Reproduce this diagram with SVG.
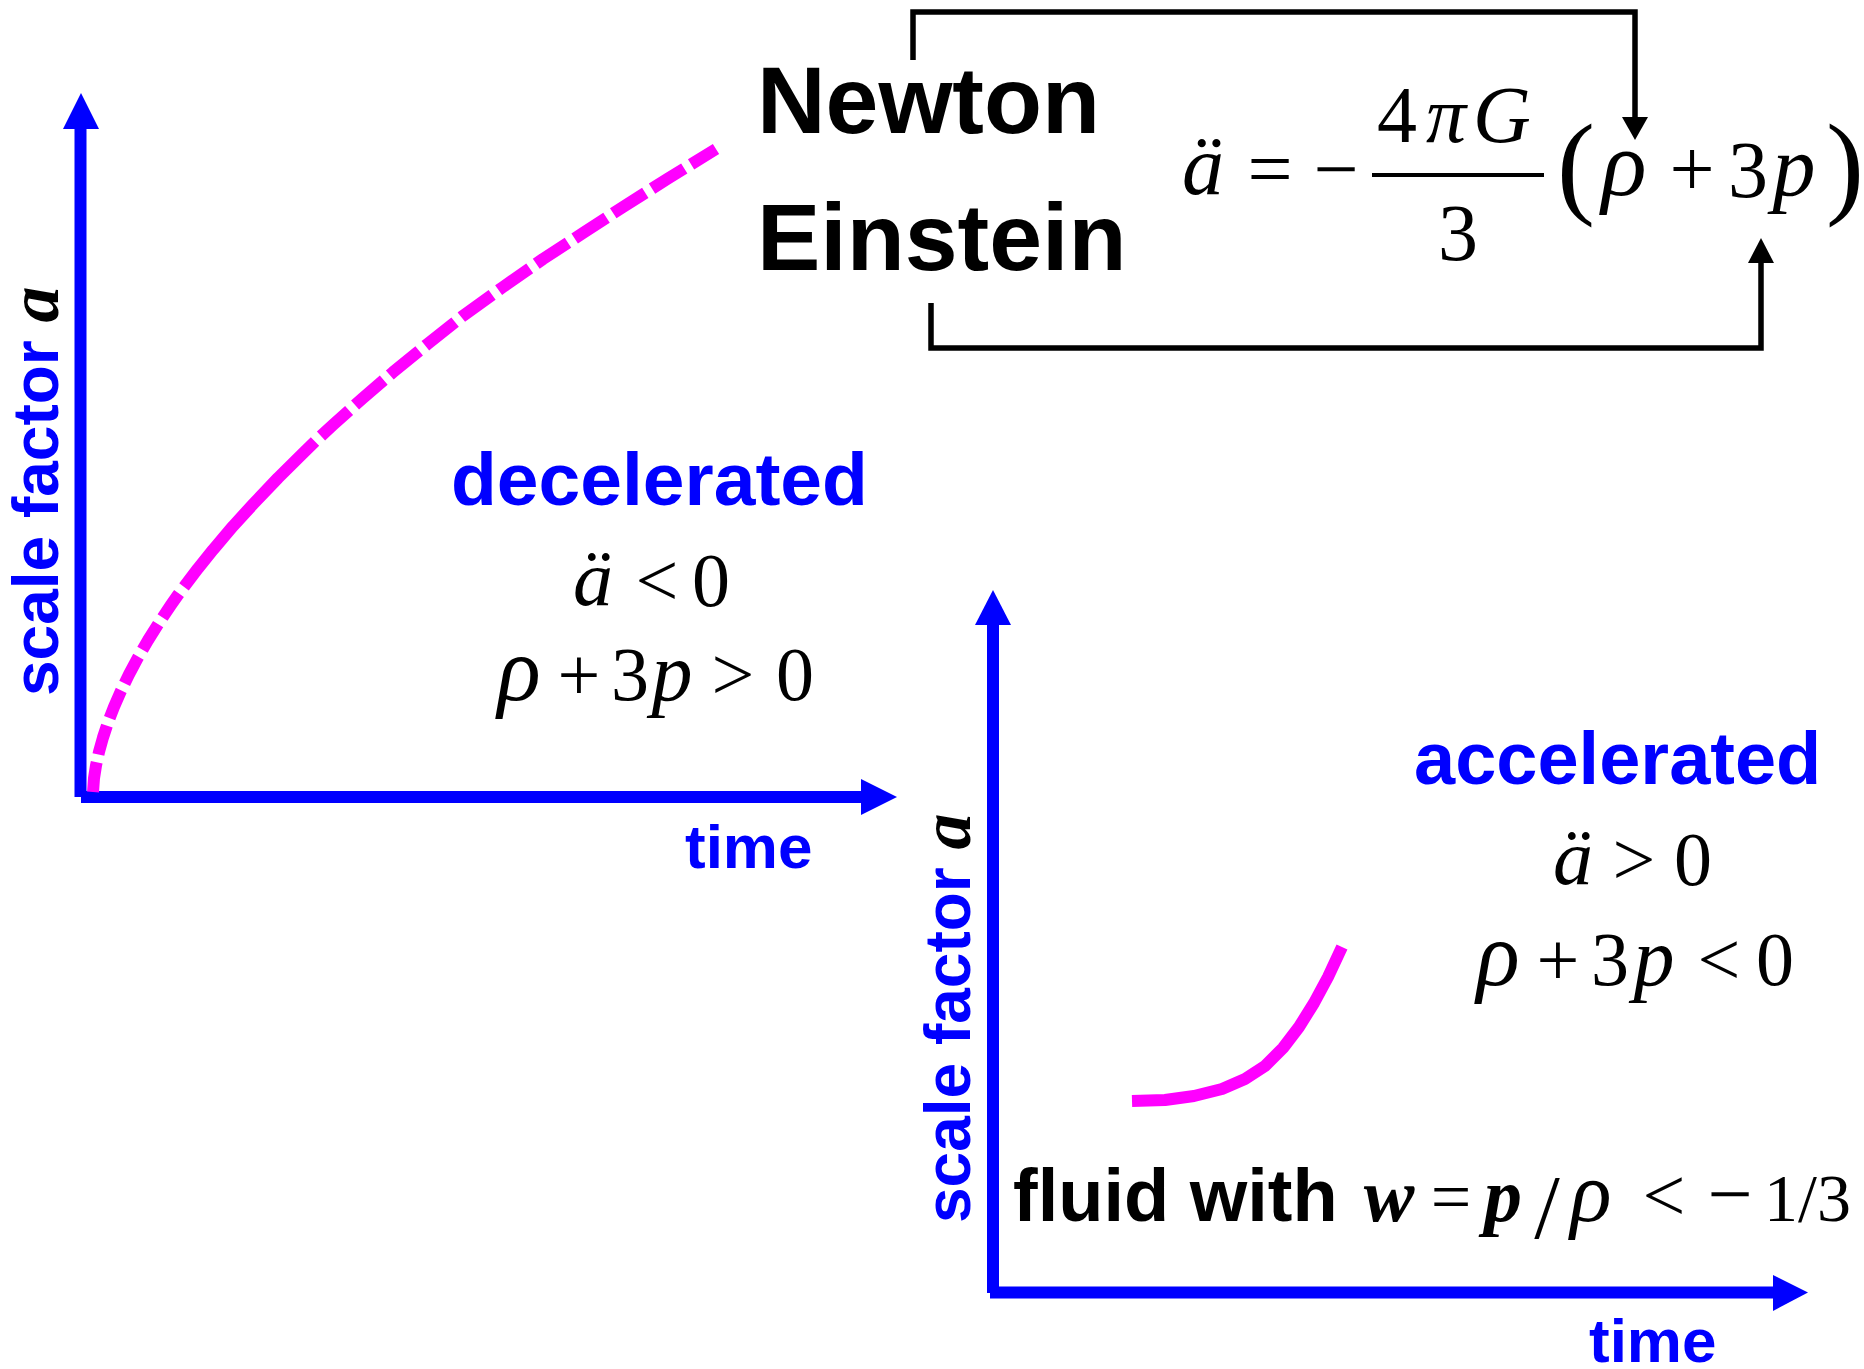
<svg xmlns="http://www.w3.org/2000/svg" width="1864" height="1369" viewBox="0 0 1864 1369">
<style>
.sans{font-family:"Liberation Sans",Arial,sans-serif;font-weight:bold}
.blue{fill:#0000ff}
.blk{fill:#000}
.m{font-family:"Liberation Serif","Times New Roman",serif;fill:#000}
.i{font-style:italic}
.b{font-weight:bold}
.c{text-anchor:middle}
.axis{stroke:#0000ff;stroke-width:12;fill:none}
.ahead{fill:#0000ff}
.curve{stroke:#ff00ff;stroke-width:12;fill:none;stroke-linejoin:round;stroke-linecap:butt}
.conn{stroke:#000;stroke-width:5.5;fill:none}
.chead{fill:#000}
</style>
<rect width="1864" height="1369" fill="#fff"/>

<g id="connectors">
  <path class="conn" d="M913,60 V12 H1635 V120"/>
  <polygon class="chead" points="1635,140 1622,117 1648,117"/>
  <path class="conn" d="M931,303 V348 H1761 V262"/>
  <polygon class="chead" points="1761,238 1748,263 1774,263"/>
</g>

<g id="newton">
  <text class="sans blk" x="757" y="133" font-size="95">Newton</text>
</g>
<g id="einstein">
  <text class="sans blk" x="757" y="270" font-size="95">Einstein</text>
</g>

<g id="equation" font-size="80">
  <text class="m i c" x="1203" y="195" font-size="84">ä</text>
  <text class="m c" x="1270" y="196">=</text>
  <text class="m c" x="1336" y="196">−</text>
  <text class="m c" x="1397" y="142">4</text>
  <text class="m i c" x="1446" y="142">π</text>
  <text class="m i c" x="1502" y="142">G</text>
  <rect x="1372" y="173" width="172" height="4" fill="#000"/>
  <text class="m c" x="1458" y="260">3</text>
  <text class="m c" x="1576" y="203" font-size="114">(</text>
  <text class="m i c" x="1624" y="195" font-size="94">ρ</text>
  <text class="m c" x="1692" y="196">+</text>
  <text class="m c" x="1748" y="197">3</text>
  <text class="m i c" x="1794" y="195" font-size="86">p</text>
  <text class="m c" x="1845" y="203" font-size="114">)</text>
</g>

<g id="graph-decelerated">
  <line class="axis" x1="80.5" y1="128" x2="80.5" y2="797"/>
  <polygon class="ahead" points="81,93 99,129 63,129"/>
  <line class="axis" x1="81" y1="797" x2="862" y2="797"/>
  <polygon class="ahead" points="897,797 861,779 861,815"/>
  <text class="sans blue" transform="translate(58,696) rotate(-90)" font-size="64">scale factor <tspan class="m i b blue" fill="#0000ff" font-size="72">a</tspan></text>
  <text class="sans blue" x="685" y="868" font-size="62">time</text>
  <path class="curve" stroke-dasharray="30 8" d="M93,792 L94,778.3 L96,765.5 L99,751.9 L103,737.5 L108,722.4 L114,706.9 L121,690.8 L129,674.4 L138,657.5 L148,640.3 L159,622.8 L171,604.9 L179,593.5"/>
  <path class="curve" d="M184,586.8 L198,568.4 L213,549.8 L233,526.2 L253,504.3 L278,478 L303,453.2 L315,441.5"/>
  <path class="curve" stroke-dasharray="38 8" d="M321,436 L333,424.8 L363,398 L393,372.2 L428,343.6 L463,315.8 L503,287 L543,259 L583,233 L623,207 L668,178.5 L716,149"/>
  <text class="sans blue" x="451" y="505" font-size="75">decelerated</text>
  <g font-size="76">
    <text class="m i c" x="593" y="606" font-size="80">ä</text>
    <text class="m c" x="657" y="606">&lt;</text>
    <text class="m c" x="711" y="606">0</text>
    <text class="m i c" x="519" y="700" font-size="90">ρ</text>
    <text class="m c" x="579" y="700">+</text>
    <text class="m c" x="630" y="700">3</text>
    <text class="m i c" x="672" y="700" font-size="82">p</text>
    <text class="m c" x="733" y="700">&gt;</text>
    <text class="m c" x="795" y="700">0</text>
  </g>
</g>

<g id="graph-accelerated">
  <line class="axis" x1="993" y1="623" x2="993" y2="1293"/>
  <polygon class="ahead" points="993,590 1011,625 975,625"/>
  <line class="axis" x1="990" y1="1292.5" x2="1774" y2="1292.5"/>
  <polygon class="ahead" points="1808,1292.5 1773,1275 1773,1311"/>
  <text class="sans blue" transform="translate(970,1223) rotate(-90)" font-size="64">scale factor <tspan class="m i b blue" fill="#0000ff" font-size="72">a</tspan></text>
  <text class="sans blue" x="1589" y="1362" font-size="62">time</text>
  <path class="curve" stroke-width="13" d="M1132,1101 L1165,1100 L1194,1096 L1222,1089 L1245,1079 L1265,1066 L1283,1048 L1299,1027 L1314,1003 L1328,977 L1342,947"/>
  <text class="sans blue" x="1414" y="784" font-size="74">accelerated</text>
  <g font-size="76">
    <text class="m i c" x="1573" y="885" font-size="80">ä</text>
    <text class="m c" x="1634" y="885">&gt;</text>
    <text class="m c" x="1693" y="885">0</text>
    <text class="m i c" x="1498" y="985" font-size="90">ρ</text>
    <text class="m c" x="1558" y="985">+</text>
    <text class="m c" x="1610" y="985">3</text>
    <text class="m i c" x="1654" y="985" font-size="82">p</text>
    <text class="m c" x="1719" y="985">&lt;</text>
    <text class="m c" x="1775" y="985">0</text>
  </g>
  <text class="sans blk" x="1013" y="1221" font-size="74">fluid with</text>
  <g font-size="76">
    <text class="m i b c" x="1389" y="1221">w</text>
    <text class="m c" x="1451" y="1221" font-size="72">=</text>
    <text class="m i b c" x="1503" y="1221">p</text>
    <text class="m c" x="1547" y="1238" font-size="92">/</text>
    <text class="m i c" x="1591" y="1221" font-size="86">ρ</text>
    <text class="m c" x="1664" y="1221">&lt;</text>
    <text class="m c" x="1730" y="1221" font-size="80">−</text>
    <text class="m" x="1764" y="1221" font-size="68">1/3</text>
  </g>
</g>
</svg>
